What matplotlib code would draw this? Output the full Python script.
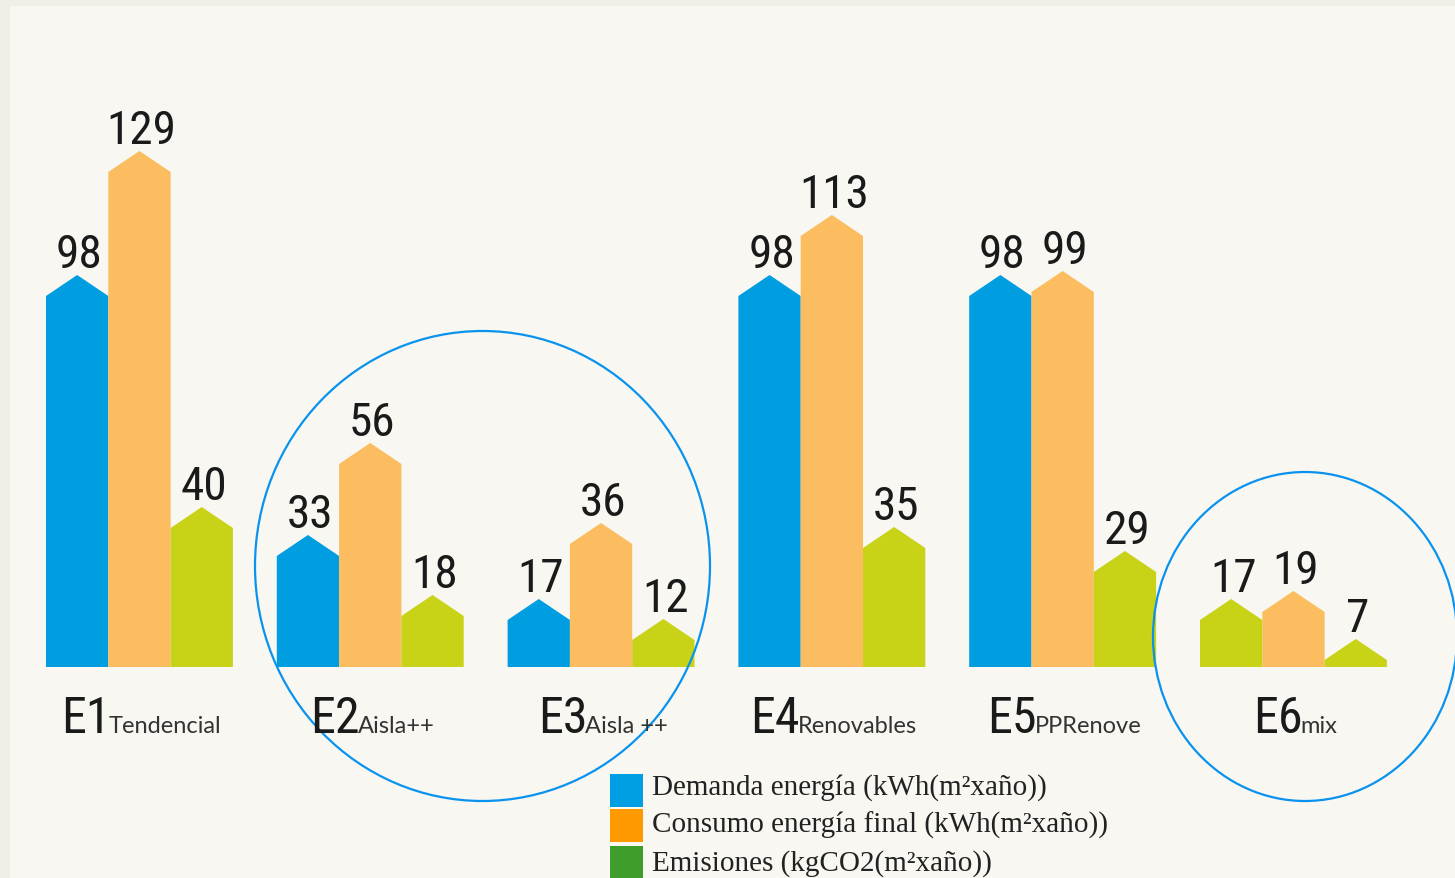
import matplotlib
matplotlib.use("Agg")
import matplotlib.pyplot as plt
from matplotlib.patches import Polygon, Ellipse, Rectangle
from matplotlib import font_manager as fm

# ---------------- data ----------------
categories = ["E1", "E2", "E3", "E4", "E5", "E6"]
subtitles = ["Tendencial", "Aisla++", "Aisla ++", "Renovables", "PPRenove", "mix"]
demanda = [98, 33, 17, 98, 98, 17]
consumo = [129, 56, 36, 113, 99, 19]
emisiones = [40, 18, 12, 35, 29, 7]
series_labels = ["Demanda energía (kWh(m²xaño))",
                 "Consumo energía final (kWh(m²xaño))",
                 "Emisiones (kgCO2(m²xaño))"]

# ---------------- styles ----------------
C_BLUE = "#009ee0"
C_ORANGE = "#fbbd5f"
C_GREEN = "#c8d217"
LEG_COLORS = ["#009fe3", "#ff9900", "#3f9e2b"]
CIRCLE = "#0a93ee"
BG_OUT = "#efeee7"
BG_IN = "#f8f7f2"

ttf = fm.fontManager.ttflist
names = {f.name for f in ttf}


def pick_condensed():
    for fam in ["Liberation Sans Narrow", "Roboto Condensed", "Open Sans Condensed",
                "Noto Sans Condensed", "Noto Sans ExtraCondensed", "Arial Narrow"]:
        if fam in names:
            return dict(family=fam)
    order = ["extra-condensed", "condensed", "semi-condensed"]
    for st in order:
        for fam in ["Noto Sans", "Roboto", "Open Sans", "DejaVu Sans"]:
            for f in ttf:
                if f.name == fam and str(f.stretch) == st:
                    return dict(family=fam, stretch=st)
    return dict(family="DejaVu Sans")


NUM_FONT = pick_condensed()
SUB_FONT = "Lato" if "Lato" in names else "DejaVu Sans"
SERIF = "Liberation Serif" if "Liberation Serif" in names else "DejaVu Serif"

W, H = 1455, 879
fig = plt.figure(figsize=(W / 100, H / 100), dpi=100, facecolor=BG_OUT)

# background axes in pixel coordinates
bg = fig.add_axes([0, 0, 1, 1], zorder=0)
bg.set_xlim(0, W); bg.set_ylim(H, 0); bg.axis("off")
bg.add_patch(Rectangle((10, 7), W - 10, H - 7, facecolor=BG_IN, edgecolor="none"))

# bar axes: x in pixels, y in value units (4 px per unit, baseline at y=668 px)
PXU = 4.0
BASE = 668
ax = fig.add_axes([0, 0, 1, 1], zorder=1)
ax.set_xlim(0, W)
ax.set_ylim(-(H - BASE) / PXU, BASE / PXU)
ax.axis("off")
ax.patch.set_alpha(0)

roof = 21 / PXU
bw = 62.3
start = 46
step = 230.8

for i, cat in enumerate(categories):
    vals = [demanda[i], consumo[i], emisiones[i]]
    cols = [C_BLUE, C_ORANGE, C_GREEN]
    if cat == "E6":
        cols = [C_GREEN, C_ORANGE, C_GREEN]
    for j, (v, c) in enumerate(zip(vals, cols)):
        x0 = start + i * step + j * bw
        x1 = x0 + bw
        sh = max(v - roof, 0)
        poly = Polygon([(x0, 0), (x0, sh), ((x0 + x1) / 2, v), (x1, sh), (x1, 0)],
                       closed=True, facecolor=c, edgecolor="none", antialiased=True)
        ax.add_patch(poly)
        ax.annotate(str(v), ((x0 + x1) / 2 + 2, v), xytext=(0, 5.5), textcoords="offset points",
                    ha="center", va="baseline", fontsize=34, color="#1a1a1a", **NUM_FONT)

# overlay axes (pixel coordinates) for circles, labels, legend
ov = fig.add_axes([0, 0, 1, 1], zorder=2)
ov.set_xlim(0, W); ov.set_ylim(H, 0); ov.axis("off")
ov.patch.set_alpha(0)

ov.add_patch(Ellipse((482.5, 567), 455, 470, facecolor="none", edgecolor=CIRCLE, lw=1.6))
ov.add_patch(Ellipse((1305, 637.5), 304, 329, facecolor="none", edgecolor=CIRCLE, lw=1.6))

# category labels
big_texts, sub_texts = [], []
for i, (cat, sub) in enumerate(zip(categories, subtitles)):
    tb = ov.text(0, 733, cat, fontsize=36, color="#1a1a1a", ha="left", va="baseline", **NUM_FONT)
    ts = ov.text(0, 733, sub, fontsize=17, color="#333333", ha="left", va="baseline", family=SUB_FONT)
    big_texts.append(tb); sub_texts.append(ts)

fig.canvas.draw()
r = fig.canvas.get_renderer()
for i in range(len(categories)):
    wb = big_texts[i].get_window_extent(r).width
    ws = sub_texts[i].get_window_extent(r).width
    center = start + i * step + 1.5 * bw + 3
    x0 = center - (wb + ws) / 2
    big_texts[i].set_x(x0)
    sub_texts[i].set_x(x0 + wb - 2)

# legend
leg_tops = [775, 810, 847]
leg_base = [795, 833, 871]
for k in range(3):
    ov.add_patch(Rectangle((610, leg_tops[k]), 33, 35 if k == 2 else 33,
                           facecolor=LEG_COLORS[k], edgecolor="none"))
    ov.text(652, leg_base[k], series_labels[k], fontsize=21, family=SERIF,
            color="#222222", ha="left", va="baseline")

fig.savefig("out.png", dpi=100, facecolor=BG_OUT)
